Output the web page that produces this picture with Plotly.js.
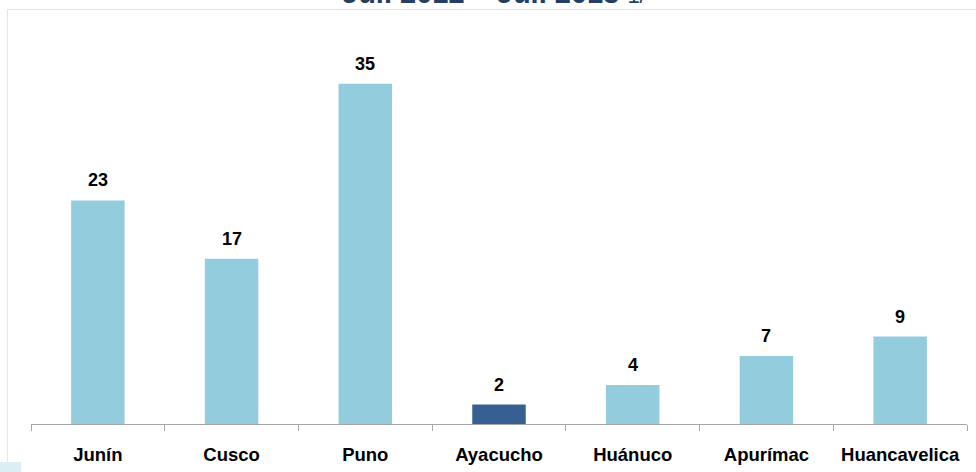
<!DOCTYPE html>
<html>
<head>
<meta charset="utf-8">
<script src="https://cdn.plot.ly/plotly-3.0.1.min.js"></script>
<style>
html,body{margin:0;padding:0;background:#fff;}
#chart{width:976px;height:472px;}
</style>
</head>
<body>
<div id="chart"></div>
<script>
const categories = ["Junín", "Cusco", "Puno", "Ayacucho", "Huánuco", "Apurímac", "Huancavelica"];
const values = [23, 17, 35, 2, 4, 7, 9];
const highlight = "Ayacucho";
const titleText = "Jul. 2012 – Jul. 2013";
const titleNote = "1/";

const lightBlue = "#93CDDD";
const darkBlue = "#376092";

const W = 976, H = 472;
const mL = 31, mR = 9, mT = 10, mB = 48;
const pw = W - mL - mR, ph = H - mT - mB;
const px = x => (x - mL) / pw;
const py = y => (H - mB - y) / ph;

const colors = categories.map(c => c === highlight ? darkBlue : lightBlue);

const trace = {
  type: "bar",
  x: categories,
  y: values,
  width: 0.4,
  marker: {color: colors, line: {width: 0}},
  hoverinfo: "x+y"
};

const labelFont = {family: "Liberation Sans, Arial, sans-serif", size: 18, color: "#000"};

const annotations = categories.map((c, i) => ({
  x: c, y: values[i], xref: "x", yref: "y",
  text: "<b>" + values[i] + "</b>",
  showarrow: false, yanchor: "bottom", yshift: 8,
  font: labelFont
}));

annotations.push({
  xref: "paper", yref: "paper",
  x: px(494), y: py(-7.5), xanchor: "center", yanchor: "middle",
  text: "<b>" + titleText + "</b> <span style=\"font-weight:normal;font-size:22px\">" + titleNote + "</span>",
  showarrow: false,
  font: {family: "Liberation Sans, Arial, sans-serif", size: 29, color: "#243F60"}
});

const layout = {
  width: W, height: H,
  margin: {l: mL, r: mR, t: mT, b: mB, pad: 0},
  paper_bgcolor: "#fff", plot_bgcolor: "#fff",
  showlegend: false,
  xaxis: {
    type: "category",
    range: [-0.5, 6.5],
    showline: true, linecolor: "#A6A6A6", linewidth: 1,
    ticks: "outside", tickson: "boundaries", ticklen: 6, tickcolor: "#A6A6A6", tickwidth: 1,
    showgrid: false, zeroline: false,
    tickfont: {family: "Liberation Sans, Arial, sans-serif", size: 18.5, color: "#000", weight: "bold"},
    ticklabelstandoff: 14,
    fixedrange: true
  },
  yaxis: {
    range: [0, ph / 9.72],
    visible: false, showgrid: false, zeroline: false,
    fixedrange: true
  },
  annotations: annotations,
  shapes: [
    {type: "line", xref: "paper", yref: "paper", x0: px(7), x1: px(976), y0: py(9.5), y1: py(9.5),
     line: {color: "#E6E6E6", width: 1}, layer: "below"},
    {type: "line", xref: "paper", yref: "paper", x0: px(7.5), x1: px(7.5), y0: py(9), y1: py(462),
     line: {color: "#E6E6E6", width: 1}, layer: "below"},
    {type: "rect", xref: "paper", yref: "paper", x0: px(0), x1: px(21), y0: py(462), y1: py(472),
     line: {width: 0}, fillcolor: "#DAEEF3", layer: "below"}
  ]
};

Plotly.newPlot("chart", [trace], layout, {displayModeBar: false, staticPlot: true});
</script>
</body>
</html>
